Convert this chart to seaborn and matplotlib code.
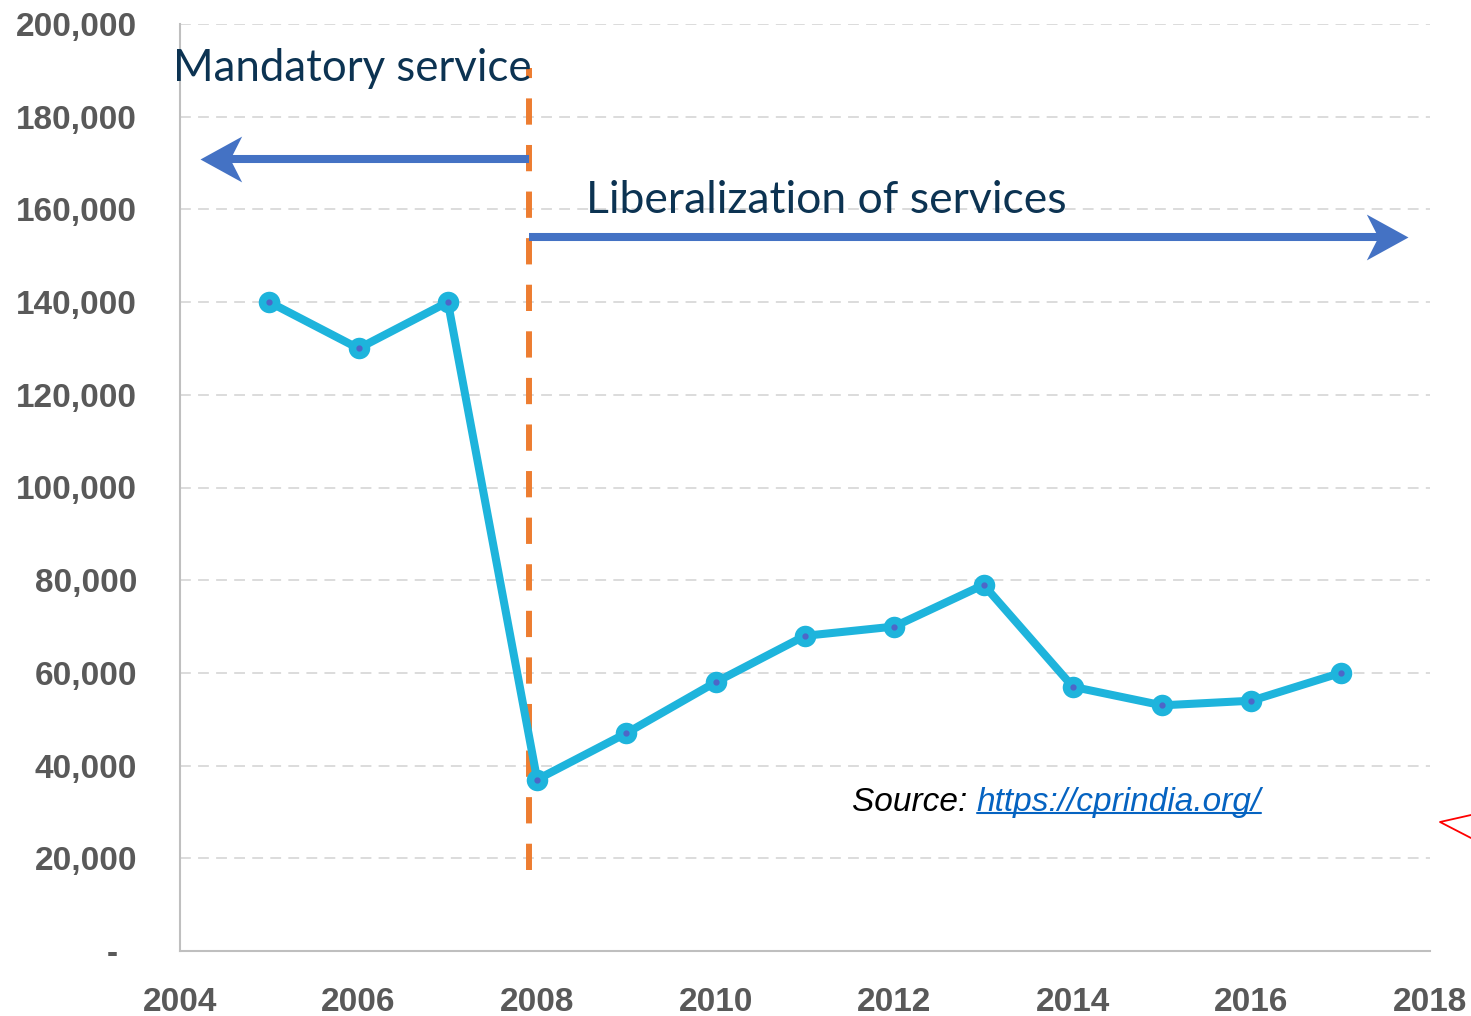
import numpy as np
import pandas as pd
import matplotlib
matplotlib.use("Agg")
from matplotlib import pyplot as plt
from matplotlib.path import Path
from matplotlib.lines import Line2D
import seaborn as sns

sns.set_style("white")
plt.rcParams['font.family'] = ['Liberation Sans', 'DejaVu Sans']

# data
years = [2005, 2006, 2007, 2008, 2009, 2010, 2011, 2012, 2013, 2014, 2015, 2016, 2017]
values = [140000, 130000, 140000, 37000, 47000, 58000, 68000, 70000, 79000, 57000, 53000, 54000, 60000]
x_ticks = [2004, 2006, 2008, 2010, 2012, 2014, 2016, 2018]
y_ticks = [0, 20000, 40000, 60000, 80000, 100000, 120000, 140000, 160000, 180000, 200000]

policy_year = 2007.91
policy_span = [17500, 190500]
mandatory_arrow = [2007.91, 2004.22, 170800]
liberal_arrow = [2007.91, 2017.75, 154000]

line_color = "#1EB4DC"
dot_color = "#4E66C8"
orange = "#ED7D31"
arrow_color = "#4472C4"
navy = "#0C3352"
tick_color = "#595959"

df = pd.DataFrame({"year": years, "value": values})

fig = plt.figure(figsize=(14.71, 10.16), dpi=100)
ax = fig.add_axes([180 / 1471, 1 - 951 / 1016, 1250 / 1471, 927 / 1016])

for y in y_ticks[1:]:
    ax.axhline(y, color="#D9D9D9", lw=1.3, dashes=(6, 4), zorder=0)

# policy change line
ax.plot([policy_year, policy_year], policy_span, color=orange, lw=4.3,
        dashes=(4.4, 3.4), solid_capstyle="butt", dash_capstyle="butt", zorder=2)

sns.lineplot(data=df, x="year", y="value", ax=ax, color=line_color, lw=5.8,
             marker="o", markersize=15.5, markeredgewidth=0, zorder=3)
ax.plot(df["year"], df["value"], ls="none", marker="o", markersize=3.5,
        color=dot_color, zorder=4)

# stealth style arrow heads as custom markers
head_right = Path([(0, 0), (-1, 0.55), (-0.72, 0), (-1, -0.55), (0, 0)],
                  [Path.MOVETO, Path.LINETO, Path.LINETO, Path.LINETO, Path.CLOSEPOLY])
head_left = Path([(0, 0), (1, 0.55), (0.72, 0), (1, -0.55), (0, 0)],
                 [Path.MOVETO, Path.LINETO, Path.LINETO, Path.LINETO, Path.CLOSEPOLY])

x0, x1, ya = mandatory_arrow
ax.plot([x0, x1 + 0.3], [ya, ya], color=arrow_color, lw=5.8, solid_capstyle="butt", zorder=3)
ax.plot([x1], [ya], ls="none", marker=head_left, markersize=60, color=arrow_color,
        markeredgewidth=0, clip_on=False, zorder=3)
x0, x1, ya = liberal_arrow
ax.plot([x0, x1 - 0.3], [ya, ya], color=arrow_color, lw=5.8, solid_capstyle="butt", zorder=3)
ax.plot([x1], [ya], ls="none", marker=head_right, markersize=60, color=arrow_color,
        markeredgewidth=0, clip_on=False, zorder=3)

ax.text(2003.92, 190500, "Mandatory service", fontsize=31.5, color=navy,
        family=["Lato", "DejaVu Sans"], va="center", ha="left", zorder=5)
ax.text(2008.55, 162000, "Liberalization of services", fontsize=32, color=navy,
        family=["Lato", "DejaVu Sans"], va="center", ha="left", zorder=5)

src = ax.text(2011.53, 32000, "Source: ", fontsize=24, style="italic", color="black",
              family=["Liberation Sans", "DejaVu Sans"], va="center", ha="left")
link = ax.annotate("https://cprindia.org/", xy=(1, 0), xycoords=src,
                   fontsize=24, style="italic", color="#0563C1",
                   family=["Liberation Sans", "DejaVu Sans"], va="bottom", ha="left")

# small red mark at the right edge
fig.add_artist(Line2D([1471 / 1471, 1440 / 1471, 1471 / 1471],
                      [1 - 815 / 1016, 1 - 822 / 1016, 1 - 838 / 1016], color="red", lw=1.3))

ax.set_xlim(2004, 2018)
ax.set_ylim(0, 200000)
ax.set_xticks(x_ticks)
ax.set_yticks(y_ticks)
ax.set_yticklabels(["-  " if v == 0 else f"{v:,}" for v in y_ticks])
ax.tick_params(axis="both", length=0, labelsize=24, labelcolor=tick_color)
ax.tick_params(axis="y", pad=31)
ax.tick_params(axis="x", pad=26)
for lbl in ax.get_xticklabels() + ax.get_yticklabels():
    lbl.set_fontweight("bold")
ax.set_xlabel("")
ax.set_ylabel("")
for side in ["top", "right"]:
    ax.spines[side].set_visible(False)
for side in ["left", "bottom"]:
    ax.spines[side].set_color("#BFBFBF")
    ax.spines[side].set_linewidth(1.5)

# underline the link once the layout is final
fig.canvas.draw()
lb = link.get_window_extent()
uy = (lb.y0 + 5) / 1016
fig.add_artist(Line2D([lb.x0 / 1471, lb.x1 / 1471], [uy, uy], color="#0563C1", lw=1.5))

fig.savefig("out.png", dpi=100)
